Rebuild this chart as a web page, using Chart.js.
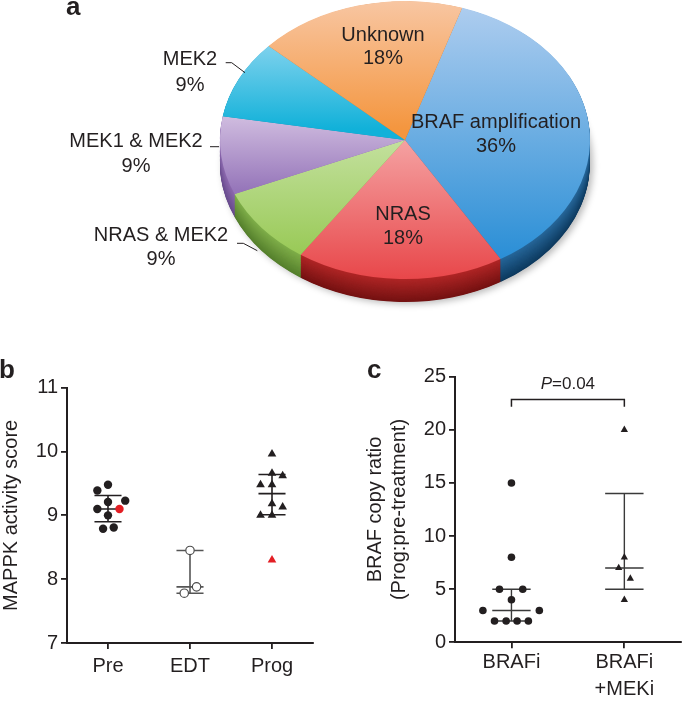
<!DOCTYPE html>
<html><head><meta charset="utf-8">
<script src="https://cdn.jsdelivr.net/npm/chart.js@4/dist/chart.umd.min.js"></script>
<style>
html,body{margin:0;padding:0;background:#fff;}
#wrap{position:relative;width:685px;height:701px;overflow:hidden;font-family:"Liberation Sans",Arial,sans-serif;}
canvas{position:absolute;}
.lbl{position:absolute;font-weight:bold;font-size:26px;line-height:26px;color:#231f20;}
</style></head><body>
<div id="wrap">
<canvas id="pie" width="685" height="400" style="left:0;top:0;width:685px;height:400px"></canvas>
<canvas id="cb" width="330" height="361" style="left:0;top:340px;width:330px;height:361px"></canvas>
<canvas id="cc" width="345" height="361" style="left:340px;top:340px;width:345px;height:361px"></canvas>
<div class="lbl" style="left:66px;top:-7px">a</div>
<div class="lbl" style="left:-1px;top:356px">b</div>
<div class="lbl" style="left:367px;top:356px">c</div>
</div>
<script>
// ---------------- Panel a data ----------------
const pieLabels = ['BRAF amplification', 'NRAS', 'NRAS & MEK2', 'MEK1 & MEK2', 'MEK2', 'Unknown'];
const pieCounts = [4, 2, 1, 1, 1, 2];

// ---------------- Panel b data ----------------
const bCategories = ['Pre', 'EDT', 'Prog'];
const preValues = [9.39, 9.48, 9.23, 9.21, 9.10, 9.00, 8.79, 8.81];
const preJitter = [-0.13, 0, 0.21, 0, -0.13, 0, -0.06, 0.07];
const preRedValues = [9.10];
const preRedJitter = [0.14];
const edtValues = [8.45, 7.88, 7.78];
const edtJitter = [0, 0.08, -0.07];
const progValues = [9.96, 9.66, 9.62, 9.48, 9.48, 9.18, 9.13, 9.00, 9.00];
const progJitter = [0, 0, 0.13, -0.14, 0, 0, 0.13, -0.14, 0];
const progRedValues = [8.30];
const progRedJitter = [0];
const bLow = [8.90, 7.78, 9.01];
const bMid = [9.10, 7.88, 9.34];
const bHigh = [9.31, 8.45, 9.64];
const bYTicks = [7, 8, 9, 10, 11];

// ---------------- Panel c data ----------------
const cCategories = [['BRAFi'], ['BRAFi', '+MEKi']];
const brafiValues = [15, 8, 5, 5, 4, 3, 3, 2, 2, 2, 2];
const brafiJitter = [0, 0, -0.106, 0.1, 0, -0.253, 0.247, -0.15, -0.047, 0.05, 0.15];
const mekiValues = [20, 8, 7, 6, 4];
const mekiJitter = [0, 0, -0.05, 0.053, 0];
const cLow = [2, 5];
const cMid = [3, 7];
const cHigh = [5, 14];
const cYTicks = [0, 5, 10, 15, 20, 25];
const pValueText = '=0.04';
const bracketLevel = 22.86;
const bracketDrop = 0.7;
const pTextLevel = 24.3;

// ---------------- styles ----------------
const FONT = '"Liberation Sans", Arial, sans-serif';
const INK = '#231f20';
Chart.defaults.font.family = FONT;
Chart.defaults.color = INK;

const pieLight = ['#aecdef', '#f6abab', '#c8e3a6', '#dccbe7', '#8dd6f0', '#f8c6a2'];
const pieDark  = ['#2b8fd6', '#e8474a', '#98c955', '#9676ba', '#11b1d9', '#f4963f'];
const pieGradSpan = [[0.02, 0.92], [0.45, 1.0], [0.45, 0.92], [0.36, 0.68], [0.12, 0.46], [0.0, 0.46]];
const sideTop = ['#27679a', '#b02626', '#7fae49', '#8c69ae', '#0f8fb0', '#c97530'];
const sideBot = ['#0d3a5f', '#741212', '#557f2c', '#674b8c', '#0a6a85', '#9a5520'];
const PIE_CX = 405, PIE_CY = 140, PIE_K = 139 / 185, PIE_DEPTH = 23;
const pieText = [[496, 122.5, 146.5], [403, 214, 238.5], [161, 235.5, 259.5], [136, 141.5, 166], [190, 59.5, 85], [383, 35, 58.5]];
const leaders = [null, null, [[237, 243.3], [243.3, 243.3], [257.3, 250.7]], [[210, 146.7], [219, 146.7]], [[225.7, 62.7], [231.7, 62.7], [245, 72.7]], null];

function hexRgb(h){return [parseInt(h.slice(1,3),16),parseInt(h.slice(3,5),16),parseInt(h.slice(5,7),16)];}
function mix(a,b,t){const A=hexRgb(a),B=hexRgb(b);return 'rgb('+A.map((v,i)=>Math.round(v+(B[i]-v)*t)).join(',')+')';}

const pie3d = {
  id: 'pie3d',
  beforeDatasetsDraw(chart) {
    const ctx = chart.ctx;
    const meta = chart.getDatasetMeta(0);
    const a0 = meta.data[0];
    const ax = a0.x, ay = a0.y;
    ctx.save();
    ctx.translate(PIE_CX, PIE_CY);
    ctx.scale(1, PIE_K);
    ctx.translate(-ax, -ay);
    const depth = PIE_DEPTH / PIE_K;
    for (let d = depth; d > 0; d -= 0.75) {
      const t = d / depth;
      meta.data.forEach((arc, i) => {
        const p = arc.getProps(['startAngle', 'endAngle', 'outerRadius']);
        ctx.save();
        if (d === depth) {
          ctx.shadowColor = 'rgba(0,0,0,0.28)';
          ctx.shadowBlur = 7; ctx.shadowOffsetX = 3; ctx.shadowOffsetY = 2;
        }
        ctx.beginPath();
        ctx.moveTo(ax, ay + d);
        ctx.arc(ax, ay + d, p.outerRadius, p.startAngle, p.endAngle);
        ctx.closePath();
        ctx.fillStyle = mix(sideTop[i], sideBot[i], t);
        ctx.fill();
        ctx.restore();
      });
    }
  },
  afterDatasetsDraw(chart) {
    const ctx = chart.ctx;
    ctx.restore();
    const meta = chart.getDatasetMeta(0);
    const total = pieCounts.reduce((s, v) => s + v, 0);
    ctx.save();
    ctx.fillStyle = INK;
    ctx.strokeStyle = INK;
    ctx.lineWidth = 1;
    ctx.font = '20px ' + FONT;
    ctx.textAlign = 'center';
    ctx.textBaseline = 'middle';
    meta.data.forEach((arc, i) => {
      const pos = pieText[i];
      ctx.fillText(pieLabels[i], pos[0], pos[1]);
      ctx.fillText(Math.round(pieCounts[i] / total * 100) + '%', pos[0], pos[2]);
      const L = leaders[i];
      if (L) {
        ctx.beginPath();
        ctx.moveTo(L[0][0], L[0][1]);
        for (let k = 1; k < L.length; k++) ctx.lineTo(L[k][0], L[k][1]);
        ctx.stroke();
      }
    });
    ctx.restore();
  }
};

new Chart(document.getElementById('pie'), {
  type: 'pie',
  data: {
    labels: pieLabels,
    datasets: [{
      data: pieCounts,
      borderWidth: 0,
      hoverOffset: 0,
      clip: false,
      backgroundColor: (c) => {
        const ch = c.chart, a = ch.chartArea, i = c.dataIndex;
        if (!a) return pieDark[i];
        const s = pieGradSpan[i];
        const g = ch.ctx.createLinearGradient(0, a.top + s[0] * a.height, 0, a.top + s[1] * a.height);
        g.addColorStop(0, pieLight[i]);
        g.addColorStop(1, pieDark[i]);
        return g;
      }
    }]
  },
  options: {
    responsive: false, animation: false, devicePixelRatio: 1,
    rotation: 18, radius: 185,
    layout: { padding: { left: 220, right: 95, top: 10, bottom: 20 } },
    plugins: { legend: { display: false }, tooltip: { enabled: false } },
    events: []
  },
  plugins: [pie3d]
});

// ---------------- helpers for scatter panels ----------------
function pts(values, jitter, idx) { return values.map((v, i) => ({ x: idx + jitter[i], y: v })); }
function summary(lo, mid, hi, hw) {
  const out = [];
  lo.forEach((l, i) => {
    const gap = { x: i, y: null };
    out.push({ x: i - hw, y: hi[i] }, { x: i + hw, y: hi[i] }, gap,
             { x: i - hw, y: mid[i] }, { x: i + hw, y: mid[i] }, gap,
             { x: i - hw, y: l }, { x: i + hw, y: l }, gap,
             { x: i, y: l }, { x: i, y: hi[i] }, gap);
  });
  return out;
}
function lineSet(data, color, width) {
  return { type: 'line', data, showLine: true, borderColor: color, borderWidth: width, pointRadius: 0, spanGaps: false, fill: false, tension: 0 };
}
function axisCommon() {
  return {
    grid: { display: true, drawOnChartArea: false, drawTicks: true, tickLength: 6, color: INK, lineWidth: 1.8 },
    border: { display: true, color: INK, width: 2 }
  };
}

// ---------------- Panel b ----------------
const bSummary = summary(bLow, bMid, bHigh, 0.165);
new Chart(document.getElementById('cb'), {
  type: 'scatter',
  data: {
    datasets: [
      { data: pts(preValues, preJitter, 0), pointStyle: 'circle', pointRadius: 4.2, backgroundColor: INK, borderColor: INK, borderWidth: 0 },
      { data: pts(preRedValues, preRedJitter, 0), pointStyle: 'circle', pointRadius: 4.2, backgroundColor: '#e31e24', borderColor: '#e31e24', borderWidth: 0 },
      { data: pts(edtValues, edtJitter, 1), pointStyle: 'circle', pointRadius: 4.2, backgroundColor: '#ffffff', borderColor: '#4d4d4d', borderWidth: 1.2 },
      { data: pts(progValues, progJitter, 2), pointStyle: 'triangle', pointRadius: 5, backgroundColor: INK, borderColor: INK, borderWidth: 0 },
      { data: pts(progRedValues, progRedJitter, 2), pointStyle: 'triangle', pointRadius: 5, backgroundColor: '#e31e24', borderColor: '#e31e24', borderWidth: 0 },
      lineSet(bSummary.slice(0, 12), INK, 1.6),
      lineSet(bSummary.slice(12, 24), '#555555', 1.6),
      lineSet(bSummary.slice(24, 36), INK, 1.6)
    ]
  },
  options: {
    responsive: false, animation: false, devicePixelRatio: 1, events: [],
    layout: { padding: { left: 0, right: 17, top: 47.7, bottom: 0 } },
    plugins: { legend: { display: false }, tooltip: { enabled: false } },
    scales: {
      x: Object.assign(axisCommon(), {
        type: 'linear', min: -0.5, max: 2.5,
        afterBuildTicks: (s) => { s.ticks = bCategories.map((c, i) => ({ value: i })); },
        afterFit: (s) => { s.height = 58; },
        ticks: { callback: (v) => bCategories[v], font: { size: 20 }, color: INK, padding: 5, maxRotation: 0, autoSkip: false }
      }),
      y: Object.assign(axisCommon(), {
        type: 'linear', min: 7, max: 11,
        afterBuildTicks: (s) => { s.ticks = bYTicks.map(v => ({ value: v })); },
        afterFit: (s) => { s.width = 67; },
        ticks: { font: { size: 20 }, color: INK, padding: 3 },
        title: { display: true, text: 'MAPPK activity score', font: { size: 20, lineHeight: 1.1 }, color: INK, padding: { top: 0, bottom: 0 } }
      })
    }
  }
});

// ---------------- Panel c ----------------
const cSummary = summary(cLow, cMid, cHigh, 0.17);
const sigPlugin = {
  id: 'sig',
  afterDatasetsDraw(chart) {
    const { ctx, scales: { x, y } } = chart;
    const x0 = x.getPixelForValue(0), x1 = x.getPixelForValue(1);
    const yt = y.getPixelForValue(bracketLevel), yb = y.getPixelForValue(bracketLevel - bracketDrop);
    ctx.save();
    ctx.strokeStyle = INK; ctx.lineWidth = 1.5;
    ctx.beginPath();
    ctx.moveTo(x0, yb); ctx.lineTo(x0, yt); ctx.lineTo(x1, yt); ctx.lineTo(x1, yb);
    ctx.stroke();
    ctx.fillStyle = INK;
    ctx.textBaseline = 'middle';
    ctx.textAlign = 'left';
    const fi = 'italic 17px ' + FONT, fr = '17px ' + FONT;
    ctx.font = fi; const wP = ctx.measureText('P').width;
    ctx.font = fr; const wR = ctx.measureText(pValueText).width;
    const startX = (x0 + x1) / 2 - (wP + wR) / 2;
    const ty = y.getPixelForValue(pTextLevel);
    ctx.font = fi; ctx.fillText('P', startX, ty);
    ctx.font = fr; ctx.fillText(pValueText, startX + wP, ty);
    ctx.restore();
  }
};
new Chart(document.getElementById('cc'), {
  type: 'scatter',
  data: {
    datasets: [
      { data: pts(brafiValues, brafiJitter, 0), pointStyle: 'circle', pointRadius: 3.8, backgroundColor: INK, borderColor: INK, borderWidth: 0 },
      { data: pts(mekiValues, mekiJitter, 1), pointStyle: 'triangle', pointRadius: 4.2, backgroundColor: INK, borderColor: INK, borderWidth: 0 },
      lineSet(cSummary.slice(0, 12), '#3a3a3a', 1.4),
      lineSet(cSummary.slice(12, 24), '#3a3a3a', 1.4)
    ]
  },
  options: {
    responsive: false, animation: false, devicePixelRatio: 1, events: [],
    layout: { padding: { left: 0, right: 2, top: 36.7, bottom: 0 } },
    plugins: { legend: { display: false }, tooltip: { enabled: false } },
    scales: {
      x: Object.assign(axisCommon(), {
        type: 'linear', min: -0.5, max: 1.5,
        afterBuildTicks: (s) => { s.ticks = cCategories.map((c, i) => ({ value: i })); },
        afterFit: (s) => { s.height = 58.7; },
        ticks: { callback: (v) => cCategories[v], font: { size: 20, lineHeight: 1.35 }, color: INK, padding: 1, maxRotation: 0, autoSkip: false }
      }),
      y: Object.assign(axisCommon(), {
        type: 'linear', min: 0, max: 25,
        afterBuildTicks: (s) => { s.ticks = cYTicks.map(v => ({ value: v })); },
        afterFit: (s) => { s.width = 115; },
        ticks: { font: { size: 20 }, color: INK, padding: 3 },
        title: { display: true, text: ['BRAF copy ratio', '(Prog:pre-treatment)'], font: { size: 20, lineHeight: 1.2 }, color: INK, padding: { top: 23, bottom: 0 } }
      })
    }
  },
  plugins: [sigPlugin]
});
</script>
</body></html>
